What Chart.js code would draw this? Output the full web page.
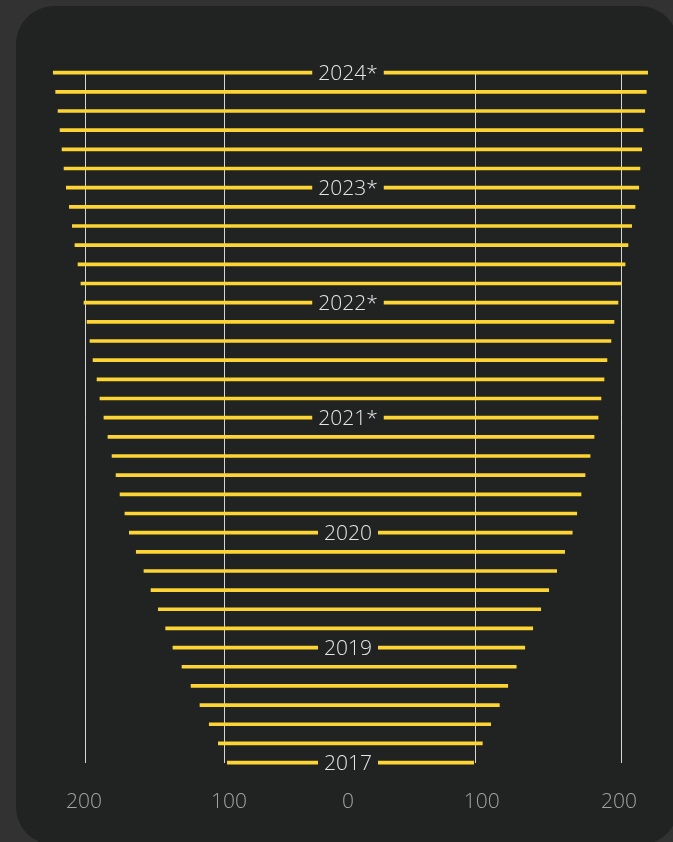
<!DOCTYPE html>
<html>
<head>
<meta charset="utf-8">
<script src="https://cdn.jsdelivr.net/npm/chart.js@4"></script>
<style>
  html, body { margin: 0; padding: 0; width: 673px; height: 842px; overflow: hidden; background: #323232; }
  .card { position: absolute; left: 16px; top: 6px; width: 662px; height: 839px; border-radius: 38px; background: #212322; }
  #chart { position: absolute; left: 0; top: 0; }
</style>
</head>
<body>
<div class="card"></div>
<canvas id="chart" width="673" height="842"></canvas>
<script>
// rows from the bottom (2017) to the top (2024*), only every 6th row is labelled
const rowLabels = [
  '2017', '', '', '', '', '',
  '2019', '', '', '', '', '',
  '2020', '', '', '', '', '',
  '2021*', '', '', '', '', '',
  '2022*', '', '', '', '', '',
  '2023*', '', '', '', '', '',
  '2024*'
];

// how far each bar reaches to the left / right of the middle
const leftValues = [
  90.7, 97.5, 104.3, 111.3, 118.0, 124.8,
  131.6, 137.1, 142.6, 148.1, 153.4, 159.2,
  164.4, 167.7, 171.4, 174.4, 177.4, 180.5,
  183.5, 186.5, 188.7, 191.7, 194.0, 196.2,
  198.5, 200.8, 203.0, 205.3, 207.3, 209.5,
  211.8, 213.5, 215.0, 216.5, 218.0, 219.8,
  221.6
];
const rightValues = [
  94.5, 101.0, 107.3, 113.8, 120.1, 126.5,
  132.9, 138.9, 144.9, 150.9, 156.9, 162.9,
  168.6, 172.0, 175.2, 178.2, 182.0, 185.0,
  188.0, 190.2, 192.5, 194.7, 197.7, 200.0,
  203.0, 205.3, 208.3, 210.5, 213.3, 215.8,
  218.6, 219.5, 220.8, 221.8, 223.1, 224.3,
  225.3
];

// axis: where the grid lines sit and where the labels sit
const gridValues = [-197.5, -93.2, 96.2, 205.8];
const tickValues = [-198.5, -89.5, 0, 100.5, 203.8];
const tickLabels = ['200', '100', '0', '100', '200'];

const cardColor = '#212322';
const barColor = '#fcd535';

// draws the year over the middle of its bar, with a gap cut out of the bar
const yearLabels = {
  id: 'yearLabels',
  afterDatasetsDraw(chart) {
    const { ctx, scales: { x, y } } = chart;
    ctx.save();
    ctx.font = '300 21px "Open Sans"';
    ctx.textAlign = 'center';
    ctx.textBaseline = 'alphabetic';
    rowLabels.forEach((label, i) => {
      if (!label) return;
      const cx = x.getPixelForValue(0);
      const cy = y.getPixelForValue(i);
      const w = ctx.measureText(label).width + 12;
      ctx.fillStyle = cardColor;
      ctx.fillRect(cx - w / 2, cy - 4, w, 8);
      ctx.fillStyle = '#e6e6e6';
      ctx.fillText(label, cx, cy + 7.5);
    });
    ctx.restore();
  }
};

new Chart(document.getElementById('chart'), {
  type: 'bar',
  data: {
    labels: rowLabels,
    datasets: [
      {
        data: leftValues.map((l, i) => [-l, rightValues[i]]),
        backgroundColor: barColor,
        barThickness: 3,
        borderWidth: 0,
        clip: false,
      },
    ],
  },
  options: {
    indexAxis: 'y',
    responsive: false,
    animation: false,
    layout: {
      padding: { left: 28.8, right: 5.8, top: 72.7, bottom: 0 },
    },
    scales: {
      y: {
        display: false,
        reverse: true,
        offset: false,
      },
      // grid lines only
      x: {
        type: 'linear',
        position: 'bottom',
        min: -240,
        max: 240,
        afterBuildTicks: axis => { axis.ticks = gridValues.map(v => ({ value: v })); },
        grid: { color: '#d6d6d6', lineWidth: 1, drawTicks: false },
        border: { display: false },
        ticks: { display: false },
      },
      // tick labels only
      x2: {
        type: 'linear',
        position: 'bottom',
        min: -240,
        max: 240,
        afterBuildTicks: axis => { axis.ticks = tickValues.map(v => ({ value: v })); },
        grid: { display: false, drawTicks: false },
        border: { display: false },
        ticks: {
          color: '#a3a3a3',
          padding: 29.2,
          maxRotation: 0,
          autoSkip: false,
          font: { family: 'Open Sans', size: 21, weight: 300, lineHeight: 1 },
          callback: (v, i) => tickLabels[i],
        },
      },
    },
    plugins: {
      legend: { display: false },
      tooltip: { enabled: false },
    },
  },
  plugins: [yearLabels],
});
</script>
</body>
</html>
